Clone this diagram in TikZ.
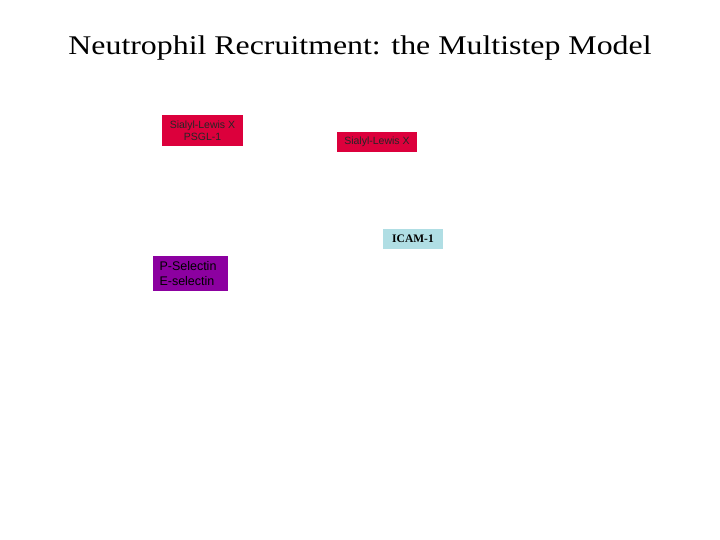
\documentclass[tikz,border=0pt]{standalone}
\usepackage{fontspec}
\setmainfont{Liberation Serif}
\setsansfont{Liberation Sans}
\definecolor{crimsonbox}{RGB}{220,0,60}
\definecolor{icamblue}{RGB}{176,222,228}
\definecolor{selpurple}{RGB}{140,0,160}
\tikzset{
    ligand/.style={fill=crimsonbox, inner sep=0pt, font=\sffamily\fontsize{10.5}{12}\selectfont, text=black!85, align=center},
    receptor/.style={fill=icamblue, inner sep=0pt, font=\bfseries\fontsize{11.5}{13}\selectfont},
    selectin/.style={fill=selpurple, inner sep=0pt, font=\sffamily\fontsize{12.5}{15}\selectfont, text=black, align=left}
}

\begin{document}
\begin{tikzpicture}[x=1pt, y=-1pt]
                \useasboundingbox[fill=white] (0, 0) rectangle (720, 540);
                \node[anchor=base, font=\fontsize{27}{32}\selectfont] (title) at (360, 55) {\scalebox{1.18}[1]{Neutrophil Recruitment: the Multistep Model}};
                \node[ligand, minimum width=81pt, minimum height=31pt] (slexpsgl) at (202.5, 130.5) {Sialyl-Lewis X\\PSGL-1};
                \node[ligand, minimum width=80pt, minimum height=20pt] (slex) at (377, 142) {Sialyl-Lewis X};
                \node[receptor, minimum width=60pt, minimum height=20pt] (icam) at (413, 239) {ICAM-1};
                \node[selectin, minimum width=75pt, minimum height=35pt, text width=62pt] (selectins) at (190.5, 273.5) {P-Selectin\\E-selectin};
\end{tikzpicture}
\end{document}
